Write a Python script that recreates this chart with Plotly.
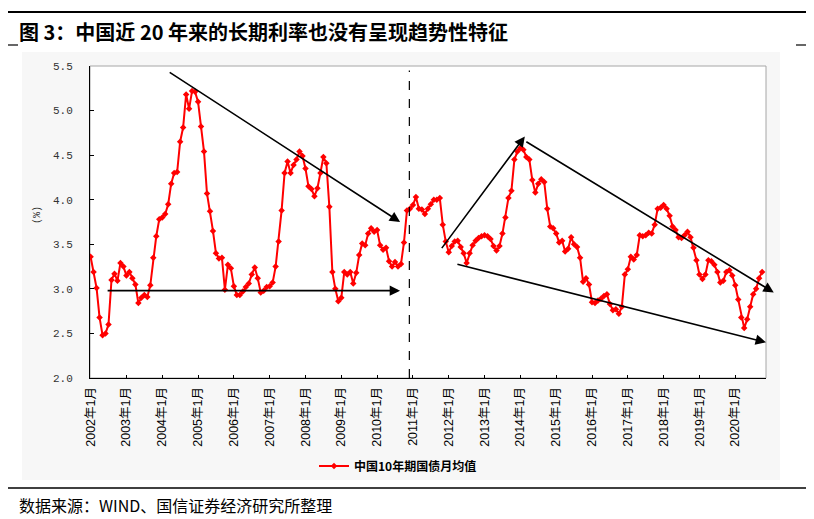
import plotly.graph_objects as go
import pandas as pd

# ---------------- data ----------------
yields = [
    3.36, 3.19, 3.01, 2.68, 2.48, 2.50, 2.60, 3.10, 3.17, 3.09, 3.29, 3.25,   # 2002
    3.15, 3.19, 3.12, 3.05, 2.84, 2.90, 2.93, 2.91, 3.04, 3.35, 3.59, 3.78,   # 2003
    3.80, 3.84, 3.95, 4.18, 4.30, 4.31, 4.65, 4.81, 5.18, 5.02, 5.22, 5.21,   # 2004
    5.10, 4.82, 4.54, 4.07, 3.87, 3.65, 3.40, 3.34, 3.35, 2.99, 3.27, 3.23,   # 2005
    3.03, 2.93, 2.93, 2.97, 3.02, 3.06, 3.16, 3.24, 3.12, 2.96, 2.98, 3.02,   # 2006
    3.03, 3.07, 3.25, 3.53, 3.88, 4.30, 4.43, 4.30, 4.39, 4.45, 4.54, 4.49,   # 2007
    4.35, 4.15, 4.12, 4.04, 4.13, 4.30, 4.48, 4.41, 3.92, 3.19, 3.00, 2.86,   # 2008
    2.90, 3.19, 3.16, 3.19, 3.06, 3.18, 3.38, 3.51, 3.49, 3.62, 3.68, 3.64,   # 2009
    3.66, 3.49, 3.44, 3.46, 3.31, 3.25, 3.30, 3.25, 3.28, 3.52, 3.88, 3.90,   # 2010
    3.94, 4.03, 3.90, 3.89, 3.84, 3.90, 3.95, 4.00, 4.00, 4.02, 3.72, 3.53,   # 2011
    3.41, 3.48, 3.53, 3.54, 3.47, 3.40, 3.29, 3.40, 3.49, 3.54, 3.57, 3.59,   # 2012
    3.60, 3.59, 3.56, 3.48, 3.43, 3.48, 3.62, 3.80, 4.02, 4.10, 4.45, 4.54,   # 2013
    4.58, 4.56, 4.48, 4.45, 4.22, 4.08, 4.18, 4.23, 4.20, 3.90, 3.70, 3.68,   # 2014
    3.62, 3.52, 3.54, 3.42, 3.45, 3.58, 3.50, 3.47, 3.35, 3.08, 3.12, 3.05,   # 2015
    2.85, 2.84, 2.87, 2.89, 2.92, 2.94, 2.83, 2.76, 2.77, 2.72, 2.80, 3.16,   # 2016
    3.22, 3.36, 3.33, 3.38, 3.60, 3.59, 3.60, 3.63, 3.62, 3.72, 3.90, 3.91,   # 2017
    3.94, 3.90, 3.82, 3.70, 3.66, 3.58, 3.57, 3.60, 3.64, 3.58, 3.46, 3.32,   # 2018
    3.16, 3.11, 3.16, 3.32, 3.31, 3.27, 3.19, 3.07, 3.09, 3.19, 3.21, 3.15,   # 2019
    3.04, 2.88, 2.68, 2.56, 2.66, 2.80, 2.94, 3.00, 3.12, 3.19,               # 2020
]
months = pd.date_range("2002-01-01", periods=len(yields), freq="MS")
month_idx = list(range(len(yields)))
tick_idx = [i for i, d in enumerate(months) if d.month == 1]
tick_text = [f"{months[i].year}年1月" for i in tick_idx]

series_name = "中国10年期国债月均值"
title_text = "图 3：中国近 20 年来的长期利率也没有呈现趋势性特征"
source_text = "数据来源：WIND、国信证券经济研究所整理"

# trend arrows: (start month, start value, end month, end value)
arrows = [
    (26.0, 5.44, 103.7, 3.75),
    (5.2, 2.98, 103.7, 2.98),
    (117.3, 3.44, 145.5, 4.71),
    (145.5, 4.66, 228.9, 2.96),
    (122.4, 3.28, 226.3, 2.40),
]
divider_month = 106.8

# ---------------- layout helpers ----------------
W, H = 814, 519
L, R, T, B = 90, 766, 66, 378


def px(x):
    return (x - L) / (R - L)


def py(y):
    return (B - y) / (B - T)


CJK = "Noto Sans CJK SC"

fig = go.Figure()
fig.add_trace(go.Scatter(
    x=month_idx, y=yields, mode="lines+markers", name=f"<b>{series_name}</b>",
    line=dict(color="#ff0000", width=2),
    marker=dict(symbol="diamond", size=5, color="#ff0000"),
))

shapes = [
    # chart area background
    dict(type="rect", xref="paper", yref="paper", x0=px(22), x1=px(780), y0=py(480), y1=py(52),
         fillcolor="#f7f7f7", line=dict(width=0), layer="below"),
    # plot area
    dict(type="rect", xref="paper", yref="paper", x0=0, x1=1, y0=0, y1=1,
         fillcolor="white", line=dict(color="#a6a6a6", width=1), layer="below"),
    # header / footer rules
    dict(type="line", xref="paper", yref="paper", x0=px(8), x1=px(806), y0=py(12), y1=py(12),
         line=dict(color="black", width=2)),
    dict(type="line", xref="paper", yref="paper", x0=px(8), x1=px(806), y0=py(488), y1=py(488),
         line=dict(color="black", width=1.5)),
    dict(type="line", xref="paper", yref="paper", x0=px(8), x1=px(18), y0=py(45), y1=py(45),
         line=dict(color="black", width=1.2)),
    dict(type="line", xref="paper", yref="paper", x0=px(796), x1=px(806), y0=py(45), y1=py(45),
         line=dict(color="black", width=1.2)),
    # dashed divider
    dict(type="line", xref="x", yref="y", x0=divider_month, x1=divider_month, y0=2.0, y1=5.45,
         line=dict(color="black", width=1.2, dash="dash")),
]

annotations = [
    dict(xref="paper", yref="paper", x=px(17), y=py(32), xanchor="left", yanchor="middle",
         text=f"<b>{title_text}</b>", showarrow=False,
         font=dict(family=CJK, size=20, color="black")),
    dict(xref="paper", yref="paper", x=px(17), y=py(505), xanchor="left", yanchor="middle",
         text=source_text, showarrow=False,
         font=dict(family=CJK, size=16, color="black")),
    dict(xref="paper", yref="paper", x=px(37), y=py(215), xanchor="center", yanchor="middle",
         text="(%)", textangle=-90, showarrow=False,
         font=dict(family="Liberation Mono", size=10, color="#333333")),
]
for x0, y0, x1, y1 in arrows:
    annotations.append(dict(
        x=x1, y=y1, ax=x0, ay=y0, xref="x", yref="y", axref="x", ayref="y",
        text="", showarrow=True, arrowhead=2, arrowsize=1.3, arrowwidth=1.6,
        arrowcolor="black", standoff=0, startstandoff=0,
    ))

fig.update_layout(
    width=W, height=H,
    margin=dict(l=L, r=W - R, t=T, b=H - B, pad=0),
    paper_bgcolor="white", plot_bgcolor="white",
    shapes=shapes, annotations=annotations,
    showlegend=True,
    legend=dict(orientation="h", x=px(398), y=py(466), xanchor="center", yanchor="middle",
                font=dict(family=CJK, size=12, color="black"), bgcolor="rgba(0,0,0,0)",
                itemwidth=30),
    font=dict(family=CJK),
)

fig.update_xaxes(
    range=[-0.2, 226.3], tickmode="array", tickvals=tick_idx, ticktext=tick_text,
    tickangle=-90, ticks="inside", ticklen=3, tickcolor="black",
    showline=True, linecolor="black", linewidth=1, showgrid=False, zeroline=False,
    ticklabelstandoff=3,
    tickfont=dict(family="Liberation Sans, Noto Sans CJK SC", size=12.5, color="black"),
)
fig.update_yaxes(
    range=[2.0, 5.5], dtick=0.5, tickformat=".1f",
    ticks="inside", ticklen=4, tickcolor="black",
    showline=True, linecolor="black", linewidth=1, showgrid=False, zeroline=False,
    ticklabelstandoff=14,
    tickfont=dict(family="Liberation Mono", size=11, color="#333333"),
)

fig.write_html("out.html")
